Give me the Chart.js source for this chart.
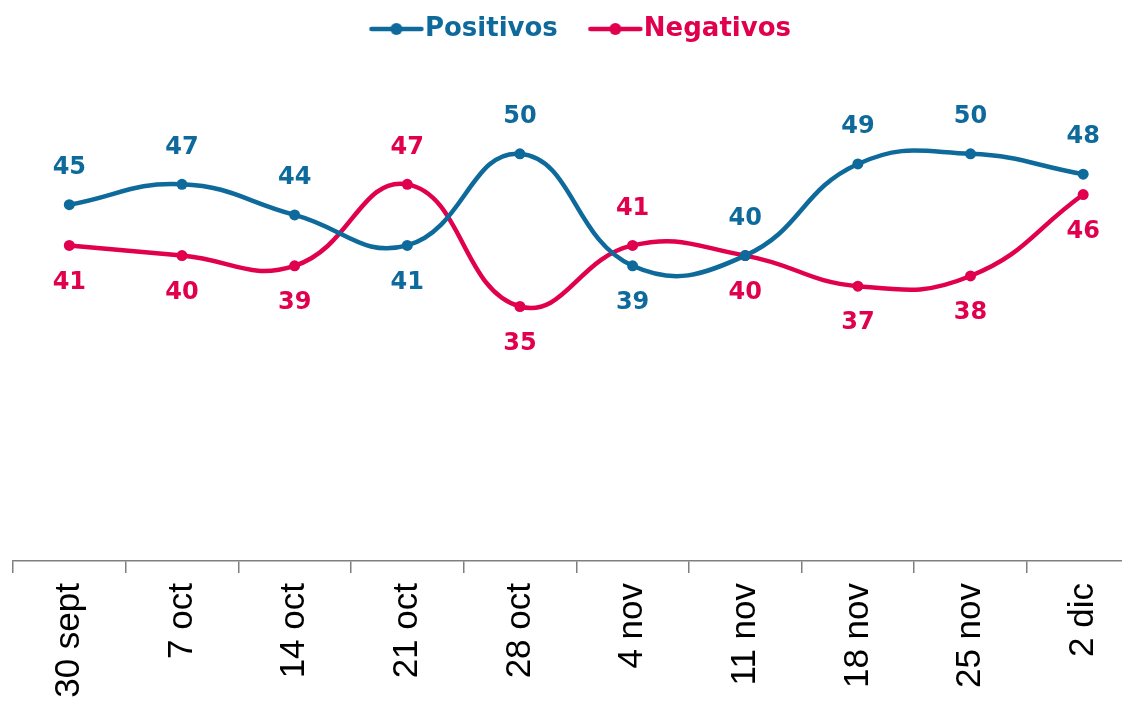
<!DOCTYPE html>
<html>
<head>
<meta charset="utf-8">
<script src="https://cdn.jsdelivr.net/npm/chart.js@4/dist/chart.umd.min.js"></script>
<style>
  html, body { margin: 0; padding: 0; background: #fff; overflow: hidden; }
  #wrap { position: absolute; left: 0; top: 0; width: 1145px; height: 701px; }
</style>
</head>
<body>
<div id="wrap"><canvas id="myChart"></canvas></div>
<script>
const weeks = ['30 sept', '7 oct', '14 oct', '21 oct', '28 oct', '4 nov', '11 nov', '18 nov', '25 nov', '2 dic'];
const positivos = [45, 47, 44, 41, 50, 39, 40, 49, 50, 48];
const negativos = [41, 40, 39, 47, 35, 41, 40, 37, 38, 46];

// where each value label sits relative to its point
const posLabelSide = ['up', 'up', 'up', 'down', 'up', 'down', 'up', 'up', 'up', 'up'];
const negLabelSide = ['down', 'down', 'down', 'up', 'down', 'up', 'down', 'down', 'down', 'down'];

const BLUE = '#0f6a9c';
const RED = '#e0004d';
const LEGEND_GAP = 35; // empty room left of each legend marker
const LEGEND_FONT = 26;

// legend marker: a short line with a dot in the middle
function legendMarker(color) {
  const c = document.createElement('canvas');
  c.width = LEGEND_GAP + 56;
  c.height = 14;
  const g = c.getContext('2d');
  g.strokeStyle = color;
  g.lineWidth = 4.5;
  g.lineCap = 'round';
  g.beginPath();
  g.moveTo(LEGEND_GAP + 3, 7);
  g.lineTo(LEGEND_GAP + 53, 7);
  g.stroke();
  g.fillStyle = color;
  g.beginPath();
  g.arc(LEGEND_GAP + 28, 7, 6, 0, Math.PI * 2);
  g.fill();
  return c;
}

const valueLabels = {
  id: 'valueLabels',
  afterDatasetsDraw(chart) {
    const ctx = chart.ctx;
    ctx.save();
    ctx.font = 'bold 24px "DejaVu Sans"';
    ctx.textAlign = 'center';
    ctx.textBaseline = 'middle';
    chart.data.datasets.forEach((ds, i) => {
      const meta = chart.getDatasetMeta(i);
      ctx.fillStyle = ds.borderColor;
      meta.data.forEach((pt, j) => {
        const dy = ds.labelSide[j] === 'up' ? -37 : 37;
        ctx.fillText(String(ds.data[j]), pt.x, pt.y + dy);
      });
    });
    ctx.restore();
  }
};

const ctx = document.getElementById('myChart').getContext('2d');

const myChart = new Chart(ctx, {
  type: 'line',
  data: {
    labels: weeks,
    datasets: [{
      label: 'Positivos',
      data: positivos,
      labelSide: posLabelSide,
      borderColor: BLUE,
      backgroundColor: BLUE,
      borderWidth: 4.5,
      pointRadius: 5.5,
      pointBackgroundColor: BLUE,
      pointBorderWidth: 0,
      tension: 0.45,
      marker: legendMarker(BLUE)
    }, {
      label: 'Negativos',
      data: negativos,
      labelSide: negLabelSide,
      borderColor: RED,
      backgroundColor: RED,
      borderWidth: 4.5,
      pointRadius: 5.5,
      pointBackgroundColor: RED,
      pointBorderWidth: 0,
      tension: 0.45,
      marker: legendMarker(RED)
    }]
  },
  options: {
    responsive: true,
    maintainAspectRatio: false,
    animation: false,
    layout: {
      padding: { left: 13, right: 3, top: 9 }
    },
    plugins: {
      tooltip: { enabled: false },
      legend: {
        position: 'top',
        labels: {
          usePointStyle: true,
          pointStyleWidth: LEGEND_GAP + 56 + 1 - LEGEND_FONT,
          padding: 7,
          font: { family: '"DejaVu Sans"', size: LEGEND_FONT, weight: 'bold' },
          generateLabels(chart) {
            const last = chart.data.datasets.length - 1;
            return chart.data.datasets.map((ds, i) => ({
              // trailing spaces balance the empty room left of the first marker
              text: i === last ? ds.label + '\u00a0\u00a0' : ds.label,
              datasetIndex: i,
              pointStyle: ds.marker,
              fontColor: ds.borderColor,
              fillStyle: ds.borderColor,
              strokeStyle: ds.borderColor,
              lineWidth: 0,
              hidden: false
            }));
          }
        }
      }
    },
    scales: {
      x: {
        offset: true,
        border: { display: true, color: '#7f7f7f', width: 1.5 },
        grid: {
          display: true,
          offset: true,
          drawOnChartArea: false,
          drawTicks: true,
          tickLength: 12,
          color: '#7f7f7f',
          lineWidth: 1.5
        },
        ticks: {
          autoSkip: false,
          maxRotation: 90,
          minRotation: 90,
          padding: 10,
          color: '#000',
          font: { family: '"Liberation Sans"', size: 35 }
        },
        afterFit(scale) {
          scale.height = 140;
        }
      },
      y: {
        display: false,
        min: 10,
        max: 60
      }
    }
  },
  plugins: [valueLabels]
});
</script>
</body>
</html>
